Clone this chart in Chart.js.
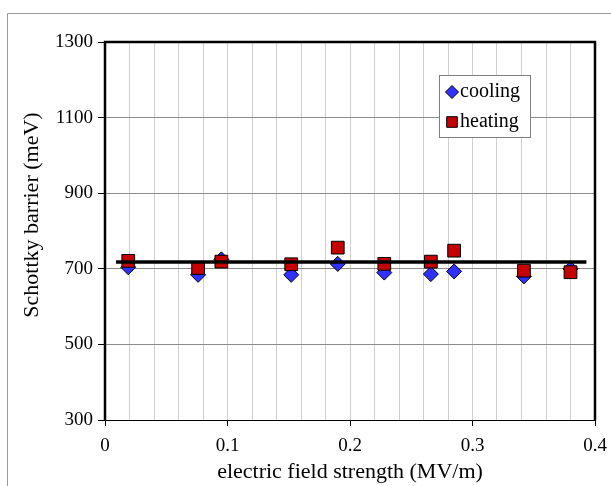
<!DOCTYPE html>
<html>
<head>
<meta charset="utf-8">
<script src="https://cdn.jsdelivr.net/npm/chart.js@4/dist/chart.umd.min.js"></script>
<style>
  body { margin: 0; background: #fff; }
  canvas { display: block; }
</style>
</head>
<body>
<canvas id="barrierChart" width="611" height="486"></canvas>
<script>
// field strength in MV/m
const fieldStrength = [0.019, 0.076, 0.095, 0.152, 0.19, 0.228, 0.266, 0.285, 0.342, 0.38];
// Schottky barrier in meV
const cooling = [704, 684, 725, 684, 713, 690, 686, 693, 680, 700];
const heating = [721, 702, 719, 712, 756, 713, 719, 748, 695, 691];
// horizontal fit line
const fitX = [0.009, 0.393];
const fitY = [718, 718];

const yTitle = "Schottky barrier (meV)";
const FONT = "'Liberation Serif', 'Times New Roman', serif";

const toPoints = (xs, ys) => xs.map((x, i) => ({ x: x, y: ys[i] }));

// grey outer frame, thick plot border, y title (sits a bit above centre in the original)
const framePlugin = {
  id: "frame",
  beforeDraw(chart) {
    const ctx = chart.ctx;
    ctx.save();
    ctx.strokeStyle = "#9a9a9a";
    ctx.lineWidth = 1;
    ctx.beginPath();
    ctx.moveTo(7.5, chart.height);
    ctx.lineTo(7.5, 13.5);
    ctx.lineTo(chart.width, 13.5);
    ctx.stroke();

    ctx.translate(32, 215);
    ctx.rotate(-Math.PI / 2);
    ctx.fillStyle = "#000";
    ctx.font = "22px " + FONT;
    ctx.textAlign = "center";
    ctx.textBaseline = "middle";
    ctx.fillText(yTitle, 0, 0);
    ctx.restore();
  },
  afterDraw(chart) {
    const { left, right, top, bottom } = chart.chartArea;
    const ctx = chart.ctx;
    ctx.save();
    ctx.strokeStyle = "#000";
    ctx.lineWidth = 2.5;
    ctx.beginPath();
    ctx.moveTo(left, bottom);
    ctx.lineTo(left, top);
    ctx.lineTo(right, top);
    ctx.lineTo(right, bottom);
    ctx.stroke();
    ctx.restore();
  },
};

// legend box inside the plot, like the excel one
const boxLegend = {
  id: "boxLegend",
  afterDraw(chart) {
    const ctx = chart.ctx;
    const bx = 439.5, by = 75.5, bw = 91, bh = 62;
    ctx.save();
    ctx.fillStyle = "#fff";
    ctx.strokeStyle = "#808080";
    ctx.lineWidth = 1;
    ctx.fillRect(bx, by, bw, bh);
    ctx.strokeRect(bx, by, bw, bh);
    const items = chart.data.datasets.filter((d) => d.showInLegend);
    items.forEach((ds, i) => {
      const y = 92 + i * 30;
      ctx.fillStyle = ds.backgroundColor;
      ctx.strokeStyle = ds.borderColor;
      ctx.lineWidth = 1;
      Chart.helpers.drawPoint(ctx, { pointStyle: ds.pointStyle, radius: ds.pointStyle === "rect" ? 7.5 : 6.5, rotation: 0, borderWidth: 1 }, 452, y);
      ctx.fillStyle = "#000";
      ctx.font = "20px " + FONT;
      ctx.textBaseline = "middle";
      ctx.textAlign = "left";
      ctx.fillText(ds.label, 460, y);
    });
    ctx.restore();
  },
};

new Chart(document.getElementById("barrierChart"), {
  type: "scatter",
  data: {
    datasets: [
      {
        label: "cooling",
        data: toPoints(fieldStrength, cooling),
        pointStyle: "rectRot",
        pointRadius: 7.5,
        backgroundColor: "#3030ff",
        borderColor: "#000",
        borderWidth: 1,
        showInLegend: true,
        order: 2,
      },
      {
        label: "heating",
        data: toPoints(fieldStrength, heating),
        pointStyle: "rect",
        pointRadius: 9,
        backgroundColor: "#c40000",
        borderColor: "#000",
        borderWidth: 1,
        showInLegend: true,
        order: 1,
      },
      {
        type: "line",
        label: "fit",
        data: toPoints(fitX, fitY),
        borderColor: "#000",
        borderWidth: 3.5,
        pointRadius: 0,
        fill: false,
        order: 0,
      },
    ],
  },
  options: {
    responsive: false,
    animation: false,
    layout: { padding: { left: 0, right: 16, top: 42, bottom: 0 } },
    plugins: {
      legend: { display: false },
      tooltip: { enabled: false },
    },
    scales: {
      x: {
        type: "linear",
        min: 0,
        max: 0.4,
        afterFit: (scale) => {
          scale.height = 66;
          scale.paddingLeft = 0;
          scale.paddingRight = 0;
        },
        ticks: {
          stepSize: 0.02,
          autoSkip: false,
          maxRotation: 0,
          padding: 9,
          color: "#000",
          font: { family: FONT, size: 19 },
          callback: (v) => {
            const t = Math.round(v * 100);
            if (t % 10 !== 0) return "";
            return t === 0 ? "0" : (t / 100).toFixed(1);
          },
        },
        grid: {
          color: "#cfcfcf",
          lineWidth: 1,
          tickLength: 6,
          tickColor: (c) => (Math.round(c.tick.value * 100) % 10 === 0 ? "#000" : "rgba(0,0,0,0)"),
        },
        border: { color: "#000", width: 1 },
        title: {
          display: true,
          text: "electric field strength (MV/m)",
          color: "#000",
          font: { family: FONT, size: 22 },
          padding: { top: 0, bottom: 1 },
        },
      },
      y: {
        min: 300,
        max: 1300,
        afterFit: (scale) => { scale.width = 105; },
        ticks: {
          stepSize: 200,
          padding: 5,
          color: "#000",
          font: { family: FONT, size: 19 },
          callback: (v) => String(v),
        },
        grid: {
          color: "#8c8c8c",
          lineWidth: 1,
          tickLength: 7,
          tickColor: "#000",
        },
        border: { color: "#000", width: 2 },
      },
    },
  },
  plugins: [framePlugin, boxLegend],
});
</script>
</body>
</html>
